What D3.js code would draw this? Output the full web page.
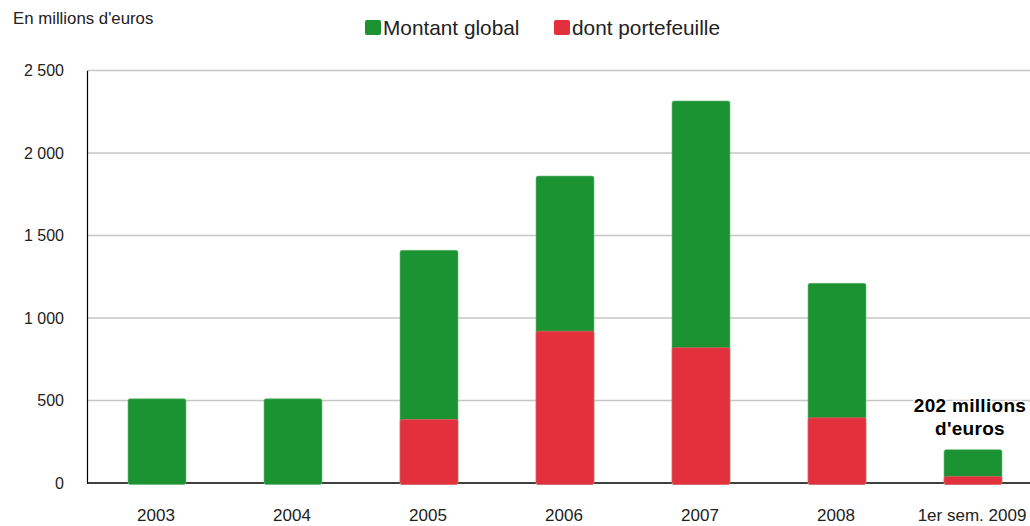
<!DOCTYPE html>
<html>
<head>
<meta charset="utf-8">
<script src="https://cdn.jsdelivr.net/npm/d3@7"></script>
<style>
  html, body { margin: 0; padding: 0; background: #fff; }
  svg { display: block; font-family: "Liberation Sans", Arial, sans-serif; }
</style>
</head>
<body>
<svg id="chart" width="1030" height="526"></svg>
<script>
const categories = ["2003", "2004", "2005", "2006", "2007", "2008", "1er sem. 2009"];
const montantGlobal = [510, 510, 1410, 1860, 2315, 1210, 202];
const portefeuille = [0, 0, 385, 920, 820, 395, 40];
const yTicks = [0, 500, 1000, 1500, 2000, 2500];
const yTickLabels = ["0", "500", "1 000", "1 500", "2 000", "2 500"];
const seriesNames = ["Montant global", "dont portefeuille"];
const unitLabel = "En millions d'euros";
const annotationLines = ["202 millions", "d'euros"];

const colors = { green: "#1c9333", red: "#e3303d" };

const svg = d3.select("#chart");
const x = d3.scaleBand().domain(categories).range([88, 1040]).paddingInner(0.574).paddingOuter(0.287);
const y = d3.scaleLinear().domain([0, 2500]).range([483, 70.5]);

// gridlines
svg.append("g").selectAll("line").data(yTicks.filter(d => d > 0)).join("line")
  .attr("x1", 87).attr("x2", 1030)
  .attr("y1", d => y(d)).attr("y2", d => y(d))
  .attr("stroke", "#c6c6c6").attr("stroke-width", 1.5);

// y axis
const yAxis = d3.axisLeft(y).tickValues(yTicks).tickFormat((d, i) => yTickLabels[i]).tickSize(0).tickPadding(23);
const gy = svg.append("g").attr("transform", "translate(87,0)").call(yAxis);
gy.select(".domain").attr("stroke", "#000").attr("stroke-width", 1.2);
gy.selectAll("text").attr("font-size", 16).attr("fill", "#222").attr("font-family", "Liberation Sans, Arial, sans-serif");

// x axis baseline
const xAxis = d3.axisBottom(x).tickSize(0).tickPadding(26);
const gx = svg.append("g").attr("transform", "translate(0,483)").call(xAxis);
gx.select(".domain").remove();
gx.append("line").attr("x1", 87).attr("x2", 1030).attr("y1", 0).attr("y2", 0).attr("stroke", "#000").attr("stroke-width", 1.5);
gx.selectAll("text").attr("font-size", 17).attr("fill", "#222").attr("font-family", "Liberation Sans, Arial, sans-serif");

// bars
const bars = svg.append("g");
bars.selectAll("rect.g").data(categories).join("rect").attr("class", "g")
  .attr("x", d => x(d) + 1).attr("width", x.bandwidth())
  .attr("y", (d, i) => y(montantGlobal[i]))
  .attr("height", (d, i) => y(0) - y(montantGlobal[i]) + 1.5)
  .attr("rx", 2).attr("fill", colors.green)
  .attr("stroke", "#5fb36f").attr("stroke-width", 0.6);
bars.selectAll("rect.r").data(categories.filter((d, i) => portefeuille[i] > 0)).join("rect").attr("class", "r")
  .attr("x", d => x(d) + 1).attr("width", x.bandwidth())
  .attr("y", d => y(portefeuille[categories.indexOf(d)]))
  .attr("height", d => y(0) - y(portefeuille[categories.indexOf(d)]) + 1.5)
  .attr("rx", 2).attr("fill", colors.red)
  .attr("stroke", "#ea6b73").attr("stroke-width", 0.6);

// annotation
const last = categories[categories.length - 1];
const ann = svg.append("text").attr("text-anchor", "middle")
  .attr("font-size", 19).attr("font-weight", "bold").attr("letter-spacing", 0.3)
  .attr("fill", "#000").attr("stroke", "#fff").attr("stroke-width", 3)
  .attr("paint-order", "stroke").attr("stroke-linejoin", "round");
annotationLines.forEach((t, i) => {
  ann.append("tspan").attr("x", x(last) + x.bandwidth() / 2 - 2).attr("y", 412 + i * 23).text(t);
});

// unit label
svg.append("text").attr("x", 13).attr("y", 24).attr("font-size", 16.8).attr("fill", "#222").text(unitLabel);

// legend
const legendX = [365, 554];
const leg = svg.append("g");
seriesNames.forEach((name, i) => {
  leg.append("rect").attr("x", legendX[i]).attr("y", 20).attr("width", 16).attr("height", 15)
    .attr("rx", 2).attr("fill", i === 0 ? colors.green : colors.red);
  leg.append("text").attr("x", legendX[i] + 18).attr("y", 35).attr("font-size", 20.8)
    .attr("fill", "#222").text(name);
});
</script>
</body>
</html>
